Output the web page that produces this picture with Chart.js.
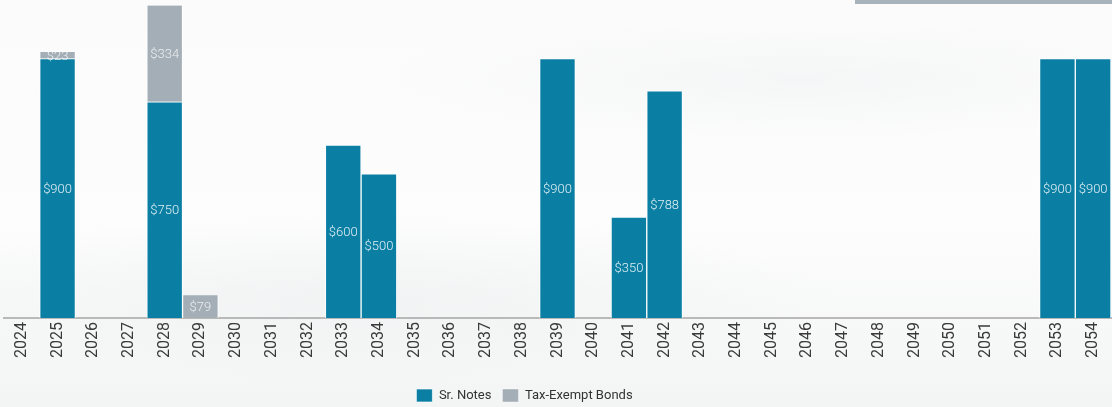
<!DOCTYPE html>
<html>
<head>
<meta charset="utf-8">
<script src="https://cdn.jsdelivr.net/npm/chart.js@4/dist/chart.umd.min.js"></script>
<style>
  html, body { margin:0; padding:0; }
  body {
    width:1112px; height:407px; overflow:hidden; position:relative;
    background:
      radial-gradient(ellipse 700px 120px at 350px 300px, rgba(235,237,238,0.55), rgba(255,255,255,0) 70%),
      radial-gradient(ellipse 600px 90px at 800px 80px, rgba(238,240,241,0.5), rgba(255,255,255,0) 70%),
      linear-gradient(180deg, #fbfbfb 0%, #fdfdfd 55%, #f3f4f4 100%);
    font-family: Roboto, "Liberation Sans", sans-serif;
  }
  #wrap { position:absolute; left:0; top:0; width:1112px; height:407px; }
  #topbar { position:absolute; left:855px; top:0; width:257px; height:4px; background:#a8b2ba; }
</style>
</head>
<body>
<div id="topbar"></div>
<div id="wrap"><canvas id="c" width="1112" height="407"></canvas></div>
<script>
const categories = ["2024","2025","2026","2027","2028","2029","2030","2031","2032","2033","2034","2035","2036","2037","2038","2039","2040","2041","2042","2043","2044","2045","2046","2047","2048","2049","2050","2051","2052","2053","2054"];
const srNotes =      [0,900,0,0,750,0,0,0,0,600,500,0,0,0,0,900,0,350,788,0,0,0,0,0,0,0,0,0,0,900,900];
const taxExempt =    [0,23,0,0,334,79,0,0,0,0,0,0,0,0,0,0,0,0,0,0,0,0,0,0,0,0,0,0,0,0,0];
const seriesNames = ["Sr. Notes","Tax-Exempt Bonds"];
const seriesColors = ["#0a7fa3","#a4aeb6"];

const labelPlugin = {
  id:'barLabels',
  afterDatasetsDraw(chart){
    const ctx = chart.ctx;
    ctx.save();
    ctx.font = '300 13px Roboto, "Liberation Sans", sans-serif';
    ctx.textAlign = 'center';
    ctx.textBaseline = 'middle';
    chart.data.datasets.forEach((ds, di) => {
      const meta = chart.getDatasetMeta(di);
      meta.data.forEach((bar, i) => {
        const v = ds.data[i];
        if (!v) return;
        ctx.fillStyle = di === 0 ? 'rgba(255,255,255,0.88)' : 'rgba(255,255,255,0.8)';
        ctx.fillText('$' + v, bar.x, (bar.y + bar.base) / 2 + 1);
      });
    });
    ctx.restore();
  }
};

const legendShift = {
  id:'legendShift',
  afterLayout(chart){
    const lg = chart.legend;
    if (!lg) return;
    lg.left -= 33; lg.right -= 33;
    lg.top += 16; lg.bottom += 16;
  }
};

new Chart(document.getElementById('c'), {
  type:'bar',
  data:{
    labels:categories,
    datasets:[
      {label:seriesNames[0], data:srNotes, backgroundColor:seriesColors[0], borderColor:'rgba(255,255,255,0.85)', borderWidth:{top:1,left:1,right:1,bottom:0}, barPercentage:1, categoryPercentage:1},
      {label:seriesNames[1], data:taxExempt, backgroundColor:seriesColors[1], borderColor:'rgba(255,255,255,0.85)', borderWidth:{top:0,left:1,right:1,bottom:0}, barPercentage:1, categoryPercentage:1}
    ]
  },
  options:{
    responsive:false,
    animation:false,
    layout:{padding:{left:4,right:1,top:1,bottom:11}},
    plugins:{
      tooltip:{enabled:false},
      legend:{
        position:'bottom',
        labels:{
          boxWidth:16, boxHeight:13, padding:11,
          color:'#333',
          font:{size:13, family:'Roboto, "Liberation Sans", sans-serif'}
        }
      }
    },
    scales:{
      x:{
        stacked:true,
        afterFit(scale){ scale.paddingLeft = 0; scale.paddingRight = 0; },
        grid:{display:false, drawTicks:false},
        border:{display:true, color:'#b9b9b9', width:2},
        ticks:{
          color:'#3a3a3a', minRotation:90, maxRotation:90, padding:4, autoSkip:false,
          font:{size:16, family:'Roboto, "Liberation Sans", sans-serif'}
        }
      },
      y:{
        stacked:true, display:false, min:0, max:1100
      }
    }
  },
  plugins:[labelPlugin, legendShift]
});
</script>
</body>
</html>
